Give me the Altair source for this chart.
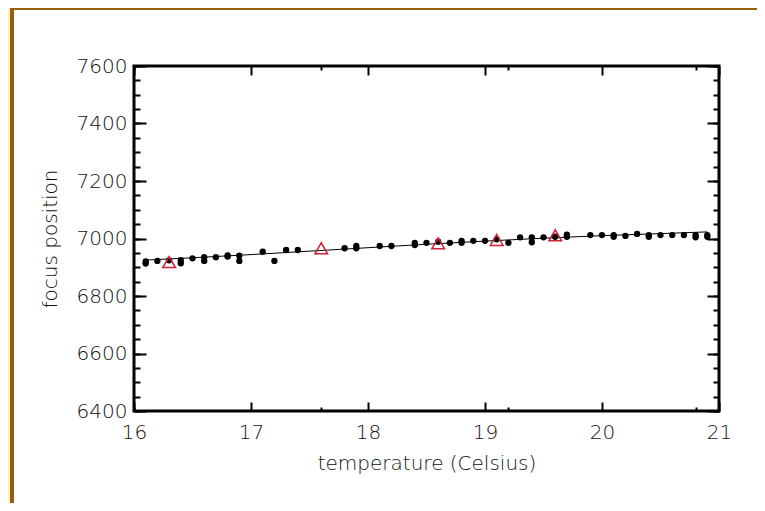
import altair as alt
import pandas as pd

# ---- data ----
dot_temp = [16.1, 16.1, 16.2, 16.3, 16.4, 16.4, 16.5, 16.6, 16.6, 16.7,
            16.8, 16.8, 16.9, 16.9, 17.1, 17.2, 17.3, 17.4, 17.8, 17.9,
            17.9, 18.1, 18.2, 18.4, 18.4, 18.5, 18.6, 18.7, 18.8, 18.8,
            18.9, 19.0, 19.1, 19.2, 19.3, 19.4, 19.4, 19.5, 19.6, 19.7,
            19.7, 19.9, 20.0, 20.1, 20.1, 20.2, 20.3, 20.4, 20.4, 20.5,
            20.6, 20.7, 20.8, 20.8, 20.9, 20.9]
dot_focus = [6913, 6920, 6922, 6924, 6925, 6914, 6931, 6935, 6922, 6935,
             6937, 6941, 6940, 6922, 6954, 6922, 6960, 6960, 6966, 6974,
             6966, 6974, 6974, 6985, 6977, 6985, 6989, 6985, 6992, 6985,
             6992, 6992, 6997, 6985, 7004, 7004, 6987, 7004, 7006, 7013,
             7006, 7012, 7012, 7012, 7006, 7009, 7016, 7012, 7006, 7012,
             7012, 7012, 7012, 7004, 7012, 7006]

tri_temp = [16.3, 17.6, 18.6, 19.1, 19.6]
tri_focus = [6918, 6966, 6983, 6995, 7011]

fit_temp = [16.1, 16.5, 17.0, 17.5, 18.0, 18.5, 19.0, 19.5, 20.0, 20.5, 20.9]
fit_focus = [6925, 6933, 6944, 6956, 6968, 6980, 6991, 7001, 7010, 7017, 7023]

x_major = [16, 17, 18, 19, 20, 21]
x_minor = [round(16 + i * 0.1, 1) for i in range(51)]
y_major = [6400, 6600, 6800, 7000, 7200, 7400, 7600]
y_minor = list(range(6400, 7601, 50))

dots = pd.DataFrame({"temperature": dot_temp, "focus": dot_focus})
tris = pd.DataFrame({"temperature": tri_temp, "focus": tri_focus})
fit = pd.DataFrame({"temperature": fit_temp, "focus": fit_focus})
one = pd.DataFrame({"k": [0]})

W, H = 585, 345
FONT = "DejaVu Sans"
TXT = "#111111"
FS = 20
FW = 300

xs = alt.Scale(domain=[16, 21], nice=False, zero=False)
ys = alt.Scale(domain=[6400, 7600], nice=False, zero=False)


def ax(orient, values, size, labels=False, pad=8, tpad=10):
    kw = dict(orient=orient, values=values, tickSize=size, offset=-size,
              labels=labels, domain=False, grid=False, tickColor="black",
              tickWidth=2, labelFlush=False, labelOverlap=False, format="d",
              labelFont=FONT, labelFontSize=FS, labelColor=TXT,
              labelFontWeight=FW, labelPadding=pad, titleFont=FONT,
              titleFontSize=FS, titleColor=TXT, titleFontWeight=FW,
              titlePadding=tpad)
    return alt.Axis(**kw)


line = alt.Chart(fit).mark_line(color="black", strokeWidth=1).encode(
    x=alt.X("temperature:Q", scale=xs,
            axis=ax("bottom", x_major, 9, True, pad=11, tpad=11),
            title="temperature (Celsius)"),
    y=alt.Y("focus:Q", scale=ys,
            axis=ax("left", y_major, 12, True, pad=7, tpad=16),
            title="focus position"),
)

pts = alt.Chart(dots).mark_circle(color="black", size=40, opacity=1).encode(
    x=alt.X("temperature:Q", scale=xs, axis=ax("bottom", x_minor, 4), title=None),
    y=alt.Y("focus:Q", scale=ys, axis=ax("left", y_minor, 6), title=None),
)

tri = alt.Chart(tris).mark_point(shape="triangle-up", color="#cc2233",
                                 filled=False, size=160, strokeWidth=1.5,
                                 opacity=1).encode(
    x=alt.X("temperature:Q", scale=xs, axis=ax("top", x_major, 9), title=None),
    y=alt.Y("focus:Q", scale=ys, axis=ax("right", y_major, 12), title=None),
)

ghost = alt.Chart(dots).mark_circle(opacity=0).encode(
    x=alt.X("temperature:Q", scale=xs, axis=ax("top", x_minor, 4), title=None),
    y=alt.Y("focus:Q", scale=ys, axis=ax("right", y_minor, 6), title=None),
)

yellow = alt.Chart(one).mark_rect(color="#fff5b3").encode(
    x=alt.value(-126), x2=alt.value(-124), y=alt.value(-58), y2=alt.value(H + 92))
brown_l = alt.Chart(one).mark_rect(color="#9a5b13").encode(
    x=alt.value(-124), x2=alt.value(-120), y=alt.value(-58), y2=alt.value(H + 92))
brown_t = alt.Chart(one).mark_rect(color="#9a5b13").encode(
    x=alt.value(-124), x2=alt.value(W + 38), y=alt.value(-58), y2=alt.value(-56))

chart = alt.layer(line, pts, tri, ghost, yellow, brown_l, brown_t).resolve_axis(
    x="independent", y="independent"
).properties(
    width=W, height=H,
    padding={"left": 126, "top": 58, "right": 38, "bottom": 92},
    autosize=alt.AutoSizeParams(type="none"),
    background="white",
).configure_view(stroke="black", strokeWidth=3)

chart.save("out.html", embed_options={"renderer": "svg", "actions": False})
